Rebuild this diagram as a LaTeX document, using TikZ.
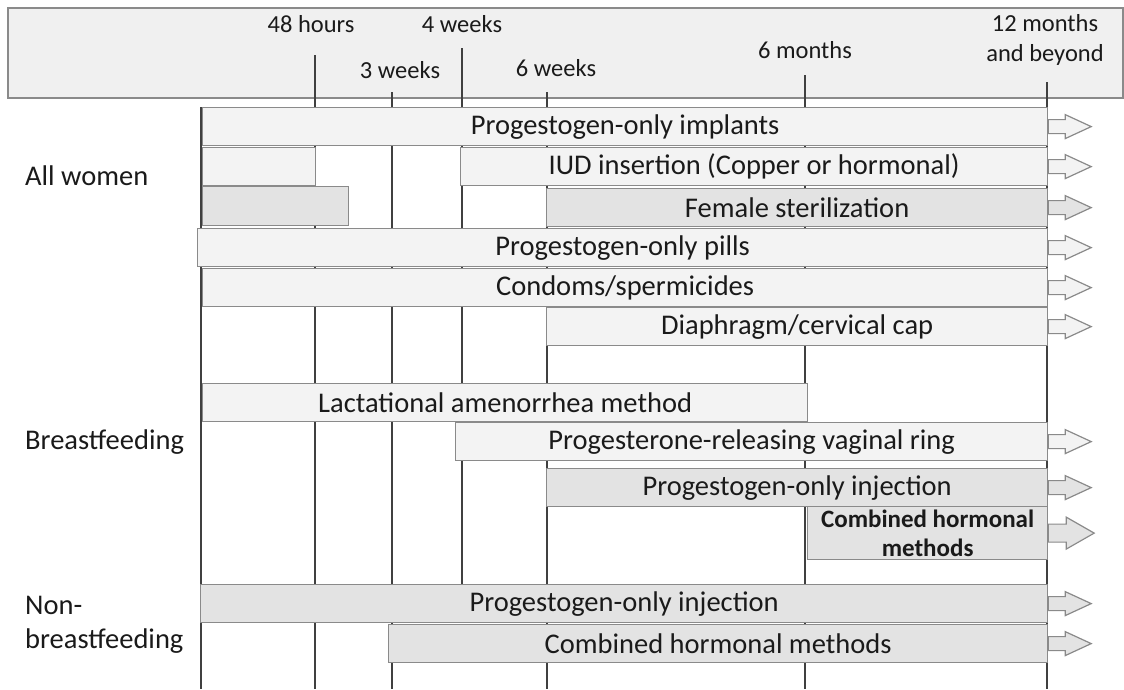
\documentclass[tikz,border=0pt]{standalone}
\usepackage{fontspec}
\setmainfont{Carlito}
\definecolor{headfill}{HTML}{F0F0F0}
\definecolor{barlight}{HTML}{F3F3F3}
\definecolor{barshade}{HTML}{E3E3E3}
\definecolor{edgegray}{HTML}{8A8A8A}
\definecolor{inkgray}{HTML}{1A1A1A}
\begin{document}
\begin{tikzpicture}[x=1pt,y=-1pt,
    every node/.style={text=inkgray},
    txt/.style={font=\fontsize{28.5}{34}\selectfont},
    headtxt/.style={font=\fontsize{24.5}{30}\selectfont},
    bar/.style={txt, draw=edgegray, line width=1.2pt, fill=barlight, minimum height=38pt, inner sep=0pt, anchor=north west},
    shadebar/.style={bar, fill=barshade},
    tip/.style={draw=edgegray, line width=1.2pt, fill=barlight},
    shadetip/.style={tip, fill=barshade},
    grid/.style={draw=black!75, line width=1.3pt}]
    \useasboundingbox (0,0) rectangle (1124,689);
    % header strip
    \draw[draw=edgegray, line width=1.2pt, fill=headfill] (8,8) rectangle (1123,98);
    \node[headtxt] (h48) at (311,24) {48 hours};
    \node[headtxt] (h4w) at (462,24) {4 weeks};
    \node[headtxt] (h3w) at (400,70) {3 weeks};
    \node[headtxt] (h6w) at (556,68) {6 weeks};
    \node[headtxt] (h6m) at (805,50) {6 months};
    \node[headtxt, align=center] (h12m) at (1045,40) {12 months\\and beyond};
    % time lines
    \draw[grid] (201,107) -- (201,689);
    \foreach \x/\top/\bot in {315/55/689, 392/92/689, 462/48/584, 547/92/689, 805/75/689, 1047/82/689}
        \draw[grid] (\x,\top) -- (\x,\bot);
    % all women
    \node[txt, anchor=west, inner sep=0pt] (allw) at (25,176) {All women};
    \node[bar, minimum width=845pt] (implants) at (202,107) {Progestogen-only implants};
    \node[bar, minimum width=113pt] (iudpre) at (202,147) {};
    \node[bar, minimum width=587pt] (iud) at (460,147) {IUD insertion (Copper or hormonal)};
    \node[shadebar, minimum width=146pt, minimum height=39pt] (sterpre) at (202,186) {};
    \node[shadebar, minimum width=501pt] (steril) at (546,188) {Female sterilization};
    \node[bar, minimum width=850pt] (pills) at (197,228) {Progestogen-only pills};
    \node[bar, minimum width=845pt] (condoms) at (202,268) {Condoms/spermicides};
    \node[bar, minimum width=501pt] (diaphragm) at (546,307) {Diaphragm/cervical cap};
    % breastfeeding
    \node[txt, anchor=west, inner sep=0pt] (bf) at (25,442) {Breastfeeding};
    \node[bar, minimum width=605pt] (lam) at (202,383) {Lactational amenorrhea method};
    \node[bar, minimum width=592pt] (ring) at (455,422) {Progesterone-releasing vaginal ring};
    \node[shadebar, minimum width=501pt] (injbf) at (546,468) {Progestogen-only injection};
    \node[shadebar, minimum width=240pt, minimum height=53pt, align=center, font=\fontsize{25}{29}\selectfont\bfseries] (combbf) at (807,506) {Combined hormonal\\methods};
    % non-breastfeeding
    \node[txt, anchor=west, align=left, inner sep=0pt] (nbf) at (25,625) {Non-\\breastfeeding};
    \node[shadebar, minimum width=847pt] (injnbf) at (200,584) {Progestogen-only injection};
    \node[shadebar, minimum width=659pt] (combnbf) at (388,624) {Combined hormonal methods};
    % arrow heads
    \foreach \n in {implants,iud,pills,condoms,diaphragm,ring}
        \draw[tip] (\n.east) ++(0,-7) -- ++(17,0) -- ++(0,-5) -- ++(26,12) -- ++(-26,12) -- ++(0,-5) -- ++(-17,0) -- cycle;
    \foreach \n in {steril,injbf,injnbf,combnbf}
        \draw[shadetip] (\n.east) ++(0,-7) -- ++(17,0) -- ++(0,-5) -- ++(26,12) -- ++(-26,12) -- ++(0,-5) -- ++(-17,0) -- cycle;
    \draw[shadetip] (combbf.east) ++(0,-9) -- ++(18,0) -- ++(0,-7) -- ++(28,16) -- ++(-28,16) -- ++(0,-7) -- ++(-18,0) -- cycle;
\end{tikzpicture}
\end{document}
